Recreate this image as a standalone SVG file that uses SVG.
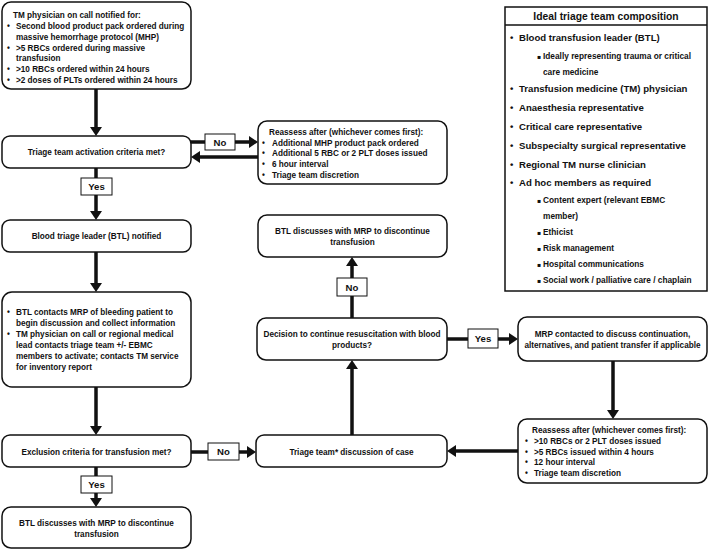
<svg xmlns="http://www.w3.org/2000/svg" width="709" height="550" viewBox="0 0 709 550">
<style>
text{font-family:"Liberation Sans",Arial,sans-serif;font-weight:bold;fill:#111;}
.t{font-size:8.2px;}
.c{text-anchor:middle;}
.lbl{font-size:9.6px;text-anchor:middle;}
.box{fill:#fff;stroke:#111;stroke-width:1.5;}
.lb{fill:#fff;stroke:#111;stroke-width:1;}
.ar{stroke:#111;stroke-width:3.5;fill:none;marker-end:url(#ah);}
.bu{font-family:"Liberation Sans",Arial,sans-serif;}
.h{font-size:10.3px;text-anchor:middle;}
.m{font-size:9.6px;}
.s{font-size:8.3px;}
.sq{font-family:"DejaVu Sans",sans-serif;font-size:6px;}
</style>
<defs>
<marker id="ah" viewBox="0 0 9 12" refX="0" refY="6" markerWidth="9" markerHeight="12" markerUnits="userSpaceOnUse" orient="auto">
<path d="M0,0 L9,6 L0,12 z" fill="#111"/>
</marker>
</defs>
<rect width="709" height="550" fill="#fff"/>

<g id="connectors">
<line class="ar" x1="96" y1="89" x2="96" y2="127"/>
<line class="ar" x1="191" y1="142" x2="249" y2="142"/>
<line class="ar" x1="258" y1="157" x2="200" y2="157"/>
<line class="ar" x1="96" y1="168" x2="96" y2="211"/>
<line class="ar" x1="96" y1="252" x2="96" y2="283"/>
<line class="ar" x1="96" y1="387" x2="96" y2="426"/>
<line class="ar" x1="191" y1="452" x2="247" y2="452"/>
<line class="ar" x1="96" y1="467" x2="96" y2="498"/>
<line class="ar" x1="352" y1="435" x2="352" y2="369"/>
<line class="ar" x1="352" y1="318" x2="352" y2="266"/>
<line class="ar" x1="447" y1="339" x2="509" y2="339"/>
<line class="ar" x1="613" y1="361" x2="613" y2="410"/>
<line class="ar" x1="518" y1="451" x2="456" y2="451"/>
<g id="labels">
<rect class="lb" x="205" y="134" width="30" height="16"/><text class="lbl" x="220" y="145.5">No</text>
<rect class="lb" x="81" y="178" width="31" height="17"/><text class="lbl" x="96.5" y="190">Yes</text>
<rect class="lb" x="337" y="278" width="30" height="18"/><text class="lbl" x="352" y="290.5">No</text>
<rect class="lb" x="468" y="329" width="30" height="19"/><text class="lbl" x="483" y="342">Yes</text>
<rect class="lb" x="208" y="443" width="31" height="17"/><text class="lbl" x="223.5" y="455">No</text>
<rect class="lb" x="81" y="476" width="31" height="17"/><text class="lbl" x="96.5" y="488">Yes</text>
</g>
</g>

<g id="tm-notified">
<rect class="box" x="2" y="2" width="189" height="87" rx="9"/>
<text class="t" x="13" y="18">TM physician on call notified for:</text>
<text class="t" x="7" y="29">•</text><text class="t" x="16" y="29">Second blood product pack ordered during</text>
<text class="t" x="16" y="39.5">massive hemorrhage protocol (MHP)</text>
<text class="t" x="7" y="50.5">•</text><text class="t" x="16" y="50.5">&gt;5 RBCs ordered during massive</text>
<text class="t" x="16" y="61">transfusion</text>
<text class="t" x="7" y="72">•</text><text class="t" x="16" y="72">&gt;10 RBCs ordered within 24 hours</text>
<text class="t" x="7" y="83">•</text><text class="t" x="16" y="83">&gt;2 doses of PLTs ordered within 24 hours</text>
</g>

<g id="activation">
<rect class="box" x="2" y="136" width="189" height="32" rx="8"/>
<text class="t c" x="96.5" y="155">Triage team activation criteria met?</text>
</g>

<g id="reassess-1">
<rect class="box" x="258" y="121" width="189" height="63" rx="9"/>
<text class="t" x="269" y="135">Reassess after (whichever comes first):</text>
<text class="t" x="262" y="145.7">•</text><text class="t" x="272" y="145.7">Additional MHP product pack ordered</text>
<text class="t" x="262" y="156.4">•</text><text class="t" x="272" y="156.4">Additional 5 RBC or 2 PLT doses issued</text>
<text class="t" x="262" y="167">•</text><text class="t" x="272" y="167">6 hour interval</text>
<text class="t" x="262" y="178">•</text><text class="t" x="272" y="178">Triage team discretion</text>
</g>

<g id="btl-notified">
<rect class="box" x="2" y="220" width="189" height="32" rx="8"/>
<text class="t c" x="96.5" y="239">Blood triage leader (BTL) notified</text>
</g>

<g id="btl-contacts">
<rect class="box" x="2" y="292" width="189" height="95" rx="10"/>
<text class="t" x="7" y="315">•</text><text class="t" x="16" y="315">BTL contacts MRP of bleeding patient to</text>
<text class="t" x="16" y="326">begin discussion and collect information</text>
<text class="t" x="7" y="337">•</text><text class="t" x="16" y="337">TM physician on call or regional medical</text>
<text class="t" x="16" y="348">lead contacts triage team +/- EBMC</text>
<text class="t" x="16" y="359">members to activate; contacts TM  service</text>
<text class="t" x="16" y="370">for inventory report</text>
</g>

<g id="exclusion">
<rect class="box" x="2" y="435" width="189" height="32" rx="8"/>
<text class="t c" x="96.5" y="455">Exclusion criteria for transfusion met?</text>
</g>

<g id="discontinue-1">
<rect class="box" x="2" y="507" width="189" height="41" rx="9"/>
<text class="t c" x="96.5" y="526">BTL discusses with MRP to discontinue</text>
<text class="t c" x="96.5" y="537">transfusion</text>
</g>

<g id="triage-discussion">
<rect class="box" x="256" y="435" width="191" height="32" rx="8"/>
<text class="t c" x="351.5" y="455">Triage team* discussion of case</text>
</g>

<g id="decision">
<rect class="box" x="257" y="318" width="190" height="42" rx="9"/>
<text class="t c" x="352" y="337">Decision to continue resuscitation with blood</text>
<text class="t c" x="352" y="348">products?</text>
</g>

<g id="discontinue-2">
<rect class="box" x="258" y="215" width="189" height="42" rx="9"/>
<text class="t c" x="352.5" y="234">BTL discusses with MRP to discontinue</text>
<text class="t c" x="352.5" y="245">transfusion</text>
</g>

<g id="mrp-contacted">
<rect class="box" x="518" y="317" width="189" height="44" rx="9"/>
<text class="t c" x="612.5" y="337">MRP contacted to discuss continuation,</text>
<text class="t c" x="612.5" y="348">alternatives, and patient transfer if applicable</text>
</g>

<g id="reassess-2">
<rect class="box" x="518" y="419" width="189" height="64" rx="9"/>
<text class="t" x="532" y="433">Reassess after (whichever comes first):</text>
<text class="t" x="525" y="444">•</text><text class="t" x="534" y="444">&gt;10 RBCs or 2 PLT doses issued</text>
<text class="t" x="525" y="455">•</text><text class="t" x="534" y="455">&gt;5 RBCs issued within 4 hours</text>
<text class="t" x="525" y="465">•</text><text class="t" x="534" y="465">12 hour interval</text>
<text class="t" x="525" y="475.5">•</text><text class="t" x="534" y="475.5">Triage team discretion</text>
</g>

<g id="team-composition">
<rect x="505" y="7" width="202" height="284" fill="#fff" stroke="#111" stroke-width="1.5"/>
<line x1="505" y1="25" x2="707" y2="25" stroke="#111" stroke-width="1.5"/>
<text class="h" x="606" y="19.7">Ideal triage team composition</text>
<text class="m" x="510" y="41.4">•</text><text class="m" x="519" y="41.4">Blood transfusion leader (BTL)</text>
<text class="sq" x="537" y="59">▪</text><text class="s" x="543" y="59">Ideally representing trauma or critical</text>
<text class="s" x="543" y="75">care medicine</text>
<text class="m" x="510" y="92.4">•</text><text class="m" x="519" y="92.4">Transfusion medicine (TM) physician</text>
<text class="m" x="510" y="111.4">•</text><text class="m" x="519" y="111.4">Anaesthesia representative</text>
<text class="m" x="510" y="130.4">•</text><text class="m" x="519" y="130.4">Critical care representative</text>
<text class="m" x="510" y="149.4">•</text><text class="m" x="519" y="149.4">Subspecialty surgical representative</text>
<text class="m" x="510" y="167.9">•</text><text class="m" x="519" y="167.9">Regional TM nurse clinician</text>
<text class="m" x="510" y="186.4">•</text><text class="m" x="519" y="186.4">Ad hoc members as required</text>
<text class="sq" x="537" y="203">▪</text><text class="s" x="543" y="203">Content expert (relevant EBMC</text>
<text class="s" x="543" y="219">member)</text>
<text class="sq" x="537" y="235">▪</text><text class="s" x="543" y="235">Ethicist</text>
<text class="sq" x="537" y="251">▪</text><text class="s" x="543" y="251">Risk management</text>
<text class="sq" x="537" y="267">▪</text><text class="s" x="543" y="267">Hospital communications</text>
<text class="sq" x="537" y="283">▪</text><text class="s" x="543" y="283">Social work / palliative care / chaplain</text>
</g>
</svg>
